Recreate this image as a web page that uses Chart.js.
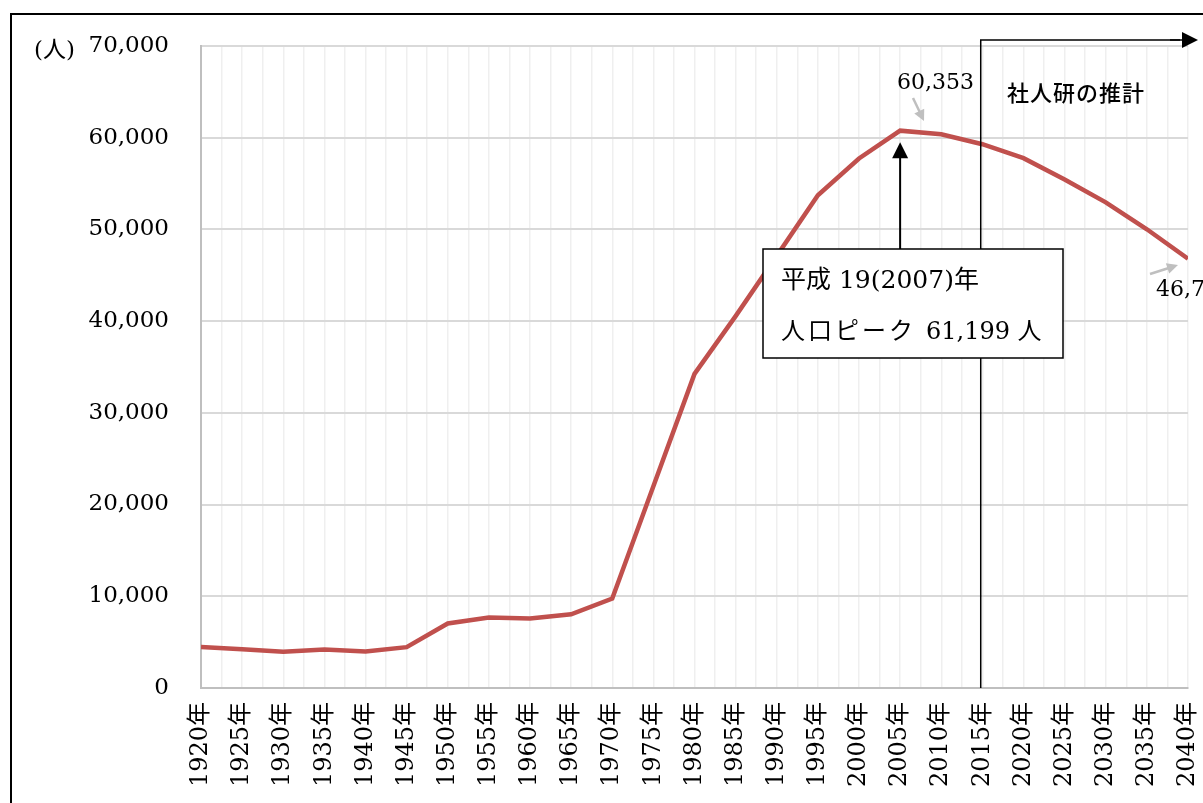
<!DOCTYPE html>
<html lang="ja">
<head>
<meta charset="UTF-8">
<title>人口推移</title>
<style>
    html, body { margin: 0; padding: 0; background: #fff; }
    #wrap { width: 1203px; height: 803px; position: relative; }
</style>
<script src="https://cdn.jsdelivr.net/npm/chart.js"></script>
</head>
<body>
<div id="wrap"><canvas id="chart" width="1203" height="803"></canvas></div>
<script>
    const years = [1920, 1925, 1930, 1935, 1940, 1945, 1950, 1955, 1960, 1965, 1970, 1975,
        1980, 1985, 1990, 1995, 2000, 2005, 2010, 2015, 2020, 2025, 2030, 2035, 2040];
    const population = [4480, 4220, 3950, 4200, 3990, 4450, 7030, 7680, 7570, 8040, 9750, 22000,
        34240, 40540, 47100, 53700, 57720, 60750, 60353, 59270, 57750, 55430, 52930, 50000, 46784];
    const yTicks = [0, 10000, 20000, 30000, 40000, 50000, 60000, 70000];

    const serif = '"DejaVu Serif", "Noto Sans CJK JP", serif';
    const gothic = '"Noto Sans CJK JP", sans-serif';

    function arrow(ctx, x1, y1, x2, y2, color, width, head) {
        const a = Math.atan2(y2 - y1, x2 - x1);
        ctx.save();
        ctx.strokeStyle = color;
        ctx.fillStyle = color;
        ctx.lineWidth = width;
        ctx.beginPath();
        ctx.moveTo(x1, y1);
        ctx.lineTo(x2 - Math.cos(a) * head * 0.8, y2 - Math.sin(a) * head * 0.8);
        ctx.stroke();
        ctx.beginPath();
        ctx.moveTo(x2, y2);
        ctx.lineTo(x2 - head * Math.cos(a) + head * 0.5 * Math.sin(a), y2 - head * Math.sin(a) - head * 0.5 * Math.cos(a));
        ctx.lineTo(x2 - head * Math.cos(a) - head * 0.5 * Math.sin(a), y2 - head * Math.sin(a) + head * 0.5 * Math.cos(a));
        ctx.closePath();
        ctx.fill();
        ctx.restore();
    }

    // 枠・注記
    const notes = {
        id: 'notes',
        afterDraw(chart) {
            const ctx = chart.ctx;
            const x = chart.scales.x, y = chart.scales.y;
            ctx.save();
            // 外枠
            ctx.strokeStyle = '#000';
            ctx.lineWidth = 2;
            ctx.strokeRect(11, 14, 1250, 850);

            // (人)
            ctx.fillStyle = '#000';
            ctx.font = '23px ' + serif;
            ctx.textAlign = 'left';
            ctx.textBaseline = 'middle';
            ctx.fillText('(人)', 34, 51);

            // 推計の区切り線
            const xs = x.getPixelForValue(2014.8);
            ctx.lineWidth = 1.5;
            ctx.beginPath();
            ctx.moveTo(xs, y.getPixelForValue(0));
            ctx.lineTo(xs, 40);
            ctx.lineTo(1180, 40);
            ctx.stroke();
            arrow(ctx, 1170, 40, 1198, 40, '#000', 1.5, 16);
            ctx.font = '500 22px ' + gothic;
            ctx.letterSpacing = '1px';
            ctx.fillText('社人研の推計', 1007, 93);
            ctx.letterSpacing = '0px';

            // ピーク矢印
            const xp = x.getPixelForValue(2005);
            arrow(ctx, xp, 250, xp, y.getPixelForValue(59500), '#000', 2, 16);

            // ボックス
            ctx.fillStyle = '#fff';
            ctx.fillRect(763, 249, 300, 109);
            ctx.strokeStyle = '#000';
            ctx.lineWidth = 1.5;
            ctx.strokeRect(763, 249, 300, 109);
            ctx.fillStyle = '#000';
            ctx.font = '25px ' + serif;
            ctx.fillText('平成 19(2007)年', 781, 281);
            ctx.font = '24px ' + serif;
            ctx.letterSpacing = '3px';
            ctx.fillText('人口ピーク', 781, 333);
            ctx.letterSpacing = '0px';
            ctx.fillText('61,199 人', 926, 333);

            // 数値ラベル
            ctx.font = '22px ' + serif;
            ctx.fillText('60,353', 897, 83);
            arrow(ctx, 913, 98, 924, 121, '#bfbfbf', 2.5, 11);
            ctx.fillText('46,784', 1156, 290);
            arrow(ctx, 1150, 274, 1178, 265, '#bfbfbf', 2.5, 11);
            ctx.restore();
        }
    };

    new Chart(document.getElementById('chart'), {
        type: 'line',
        data: {
            datasets: [{
                data: years.map((yr, i) => ({ x: yr, y: population[i] })),
                borderColor: '#C0504D',
                borderWidth: 4.5,
                pointRadius: 0,
                tension: 0,
                fill: false
            }]
        },
        options: {
            responsive: false,
            animation: false,
            layout: { padding: { top: 44, right: 15, left: 0, bottom: 0 } },
            plugins: { legend: { display: false }, tooltip: { enabled: false } },
            scales: {
                x: {
                    type: 'linear',
                    min: 1920,
                    max: 2040,
                    afterBuildTicks(scale) {
                        const t = [];
                        for (let v = 1920; v <= 2040; v += 2.5) t.push({ value: v });
                        scale.ticks = t;
                    },
                    afterFit(scale) {
                        scale.height = 115;
                        scale.paddingLeft = 0;
                        scale.paddingRight = 0;
                    },
                    grid: { color: '#efefef', lineWidth: 1.5, drawTicks: false },
                    border: { color: '#bfbfbf', width: 2 },
                    ticks: {
                        autoSkip: false,
                        maxRotation: 90,
                        minRotation: 90,
                        padding: 14,
                        color: '#000',
                        font: { family: serif, size: 24 },
                        callback: v => (v % 5 === 0 ? v + '年' : '')
                    }
                },
                y: {
                    min: 0,
                    max: 70000,
                    afterBuildTicks(scale) { scale.ticks = yTicks.map(v => ({ value: v })); },
                    afterFit(scale) { scale.width = 201; },
                    grid: { color: '#d9d9d9', lineWidth: 2, drawTicks: false },
                    border: { color: '#bfbfbf', width: 2 },
                    ticks: {
                        padding: 32,
                        color: '#000',
                        font: { family: serif, size: 23 },
                        callback: v => v.toLocaleString('en-US')
                    }
                }
            }
        },
        plugins: [notes]
    });
</script>
</body>
</html>
